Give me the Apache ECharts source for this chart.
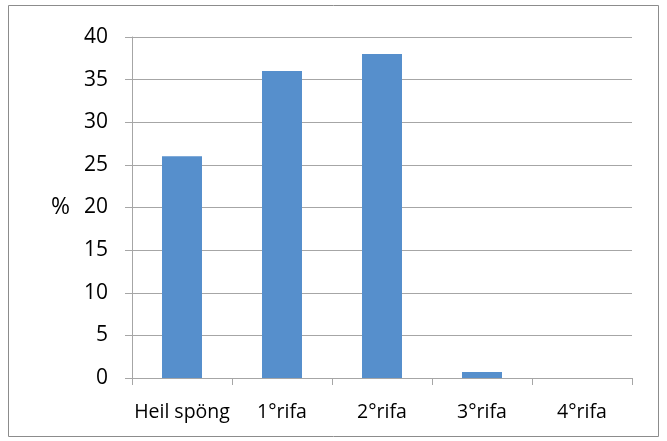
<!DOCTYPE html>
<html>
<head>
<meta charset="utf-8">
<script src="https://cdn.jsdelivr.net/npm/echarts@6/dist/echarts.min.js"></script>
<style>
  html, body { margin: 0; padding: 0; background: #fff; }
  #chart { width: 667px; height: 441px; }
</style>
</head>
<body>
<div id="chart"></div>
<script>
var categories = ['Heil spöng', '1°rifa', '2°rifa', '3°rifa', '4°rifa']
var percents = [26, 36, 38, 0.7, 0]
var yTicks = { min: 0, max: 40, interval: 5 }

var chart = echarts.init(document.getElementById('chart'))
var font = '"Open Sans", "DejaVu Sans", sans-serif'
var axisGray = '#a6a6a6'

chart.setOption({
  animation: false,
  textStyle: { fontFamily: font },
  graphic: [{
    type: 'rect',
    shape: { x: 8.5, y: 5.5, width: 650, height: 431 },
    style: { fill: 'none', stroke: '#8c8c8c', lineWidth: 1 }
  }],
  grid: { left: 132, right: 35, top: 37, bottom: 63, containLabel: false },
  xAxis: {
    type: 'category',
    data: categories,
    boundaryGap: true,
    axisLine: { lineStyle: { color: axisGray, width: 1 } },
    axisTick: { show: true, length: 7, lineStyle: { color: axisGray } },
    axisLabel: { interval: 0, color: '#000', fontSize: 19.5, fontFamily: font, margin: 24 }
  },
  yAxis: {
    type: 'value',
    min: yTicks.min,
    max: yTicks.max,
    interval: yTicks.interval,
    name: '%',
    nameLocation: 'middle',
    nameRotate: 0,
    nameGap: 62,
    nameTextStyle: { color: '#000', fontSize: 23, fontFamily: font },
    axisLine: { show: true, lineStyle: { color: axisGray, width: 1 } },
    axisTick: { show: true, length: 7, lineStyle: { color: axisGray } },
    axisLabel: { color: '#000', fontSize: 21, fontFamily: font, margin: 24 },
    splitLine: { show: true, lineStyle: { color: axisGray, width: 1 } }
  },
  series: [{
    type: 'bar',
    data: percents,
    barWidth: 40,
    barGap: '0%',
    itemStyle: { color: '#568fcc' }
  }]
})
</script>
</body>
</html>
